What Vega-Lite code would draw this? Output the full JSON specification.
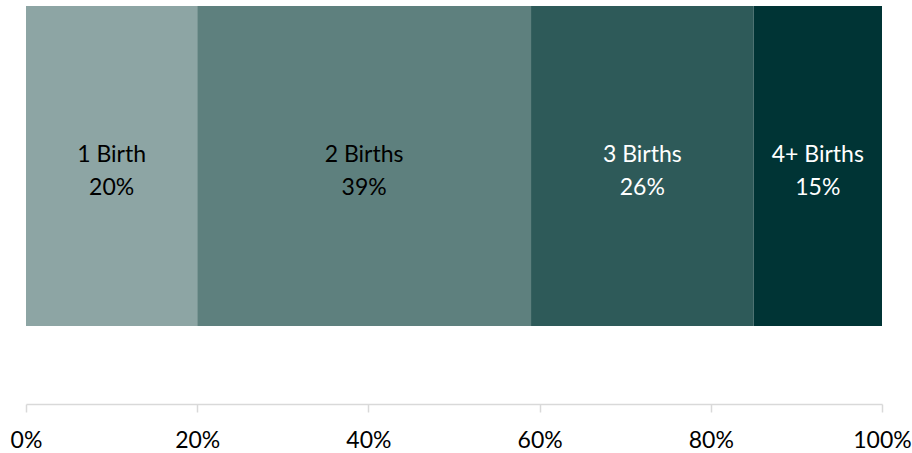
{
  "$schema": "https://vega.github.io/schema/vega-lite/v6.json",
  "width": 856,
  "height": 320,
  "autosize": "none",
  "padding": {"left": 26, "top": 6, "right": 30, "bottom": 127},
  "background": "white",
  "config": {"view": {"stroke": null}, "font": "Lato"},
  "data": {"values": [
    {"order": 1, "label": "1 Birth", "share": 0.20},
    {"order": 2, "label": "2 Births", "share": 0.39},
    {"order": 3, "label": "3 Births", "share": 0.26},
    {"order": 4, "label": "4+ Births", "share": 0.15}
  ]},
  "transform": [
    {"stack": "share", "groupby": [], "sort": [{"field": "order"}], "as": ["s0", "s1"]},
    {"calculate": "(datum.s0 + datum.s1) / 2", "as": "mid"}
  ],
  "encoding": {
    "y": {"datum": "all", "type": "nominal", "axis": null,
          "scale": {"paddingInner": 0, "paddingOuter": 0}}
  },
  "layer": [
    {
      "mark": {"type": "bar"},
      "encoding": {
        "x": {"field": "s0", "type": "quantitative",
              "scale": {"domain": [0, 1], "nice": false},
              "axis": {"format": ".0%", "values": [0, 0.2, 0.4, 0.6, 0.8, 1], "title": null,
                       "grid": false, "offset": 78, "domainColor": "#d9d9d9", "domainWidth": 1.5,
                       "tickColor": "#d9d9d9", "tickWidth": 1.5, "tickSize": 8,
                       "labelFont": "Lato", "labelFontSize": 23, "labelColor": "#000000",
                       "labelPadding": 17, "labelFlush": false}},
        "x2": {"field": "s1"},
        "color": {"field": "label", "type": "nominal", "legend": null,
                  "sort": ["1 Birth", "2 Births", "3 Births", "4+ Births"],
                  "scale": {"domain": ["1 Birth", "2 Births", "3 Births", "4+ Births"],
                            "range": ["#8da5a4", "#5e807e", "#2e5a59", "#003435"]}}
      }
    },
    {
      "mark": {"type": "text", "fontSize": 23, "baseline": "alphabetic", "dy": -4},
      "encoding": {
        "x": {"field": "mid", "type": "quantitative"},
        "text": {"field": "label"},
        "color": {"condition": {"test": "datum.order <= 2", "value": "#000000"}, "value": "#ffffff"}
      }
    },
    {
      "mark": {"type": "text", "fontSize": 23, "baseline": "alphabetic", "dy": 29},
      "encoding": {
        "x": {"field": "mid", "type": "quantitative"},
        "text": {"field": "share", "format": ".0%"},
        "color": {"condition": {"test": "datum.order <= 2", "value": "#000000"}, "value": "#ffffff"}
      }
    }
  ]
}
